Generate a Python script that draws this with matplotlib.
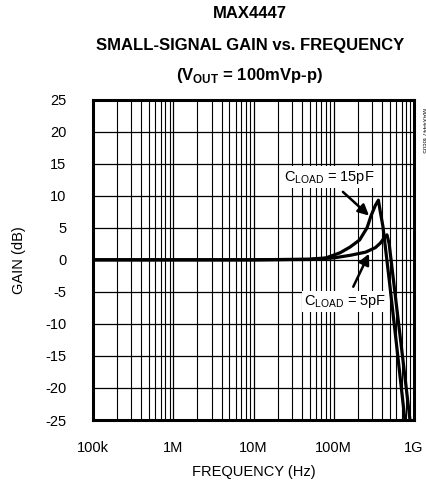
import matplotlib
matplotlib.use("Agg")
import matplotlib.pyplot as plt

# -----------------------------------------
# Data
# -----------------------------------------
freq_15pf = [1e5, 1e6, 1e7, 5e7, 8e7, 1.2e8, 1.6e8, 2.1e8, 2.6e8, 2.9e8,
             3.3e8, 3.6e8, 3.8e8, 4.1e8, 5.0e8, 6.0e8, 7.7e8]
gain_15pf = [0.0, 0.0, 0.0, 0.1, 0.3, 1.1, 2.0, 3.1, 5.0, 6.8,
             8.5, 9.3, 7.5, 5.2, -4.0, -12.8, -25.0]

freq_5pf = [1e5, 1e6, 1e7, 5e7, 1e8, 1.6e8, 2.5e8, 3.3e8, 3.8e8, 4.3e8,
            4.6e8, 4.9e8, 6.0e8, 7.5e8, 8.9e8]
gain_5pf = [0.0, 0.0, 0.0, 0.05, 0.3, 0.7, 1.2, 1.9, 2.6, 3.5,
            3.9, 2.5, -6.8, -17.0, -25.0]

x_ticks = [1e5, 1e6, 1e7, 1e8, 1e9]
x_labels = ["100k", "1M", "10M", "100M", "1G"]
y_ticks = list(range(-25, 30, 5))

FONT = ["Liberation Sans Narrow", "Liberation Sans", "DejaVu Sans"]
plt.rcParams["font.family"] = FONT
plt.rcParams["axes.unicode_minus"] = False

fig = plt.figure(figsize=(4.27, 4.84), dpi=100)
ax = fig.add_axes([0.2178, 0.1322, 0.7518, 0.662])

ax.plot(freq_15pf, gain_15pf, color="black", lw=2.3, solid_joinstyle="round")
ax.plot(freq_5pf, gain_5pf, color="black", lw=2.3, solid_joinstyle="round")

ax.set_xscale("log")
ax.set_xlim(1e5, 1e9)
ax.set_ylim(-25, 25)
ax.set_xticks(x_ticks)
ax.set_xticklabels(x_labels)
ax.set_yticks(y_ticks)
ax.tick_params(axis="both", which="both", length=0, labelsize=10.5)
ax.tick_params(axis="x", pad=15)
ax.tick_params(axis="y", pad=19)
ax.grid(True, which="major", color="black", lw=0.9)
ax.grid(True, which="minor", axis="x", color="black", lw=0.8)
ax.set_axisbelow(True)
for s in ax.spines.values():
    s.set_linewidth(2.2)

ax.set_xlabel("FREQUENCY (Hz)", fontsize=10.5, labelpad=7)
ax.set_ylabel("GAIN (dB)", fontsize=10.5, labelpad=14)

# -----------------------------------------
# Annotations
# -----------------------------------------
box = dict(boxstyle="square,pad=0.15", fc="white", ec="none")
arrow = dict(arrowstyle="-|>", color="black", lw=1.8, mutation_scale=16,
             shrinkA=0, shrinkB=0)

ax.text(2.4e7, 12.9, r"C$_{\mathregular{LOAD}}$ = 15pF", fontsize=10.5,
        ha="left", va="center", bbox=box)
ax.annotate("", xy=(2.75e8, 6.9), xytext=(1.3e8, 10.6), arrowprops=arrow)

ax.text(4.3e7, -6.5, r"C$_{\mathregular{LOAD}}$ = 5pF", fontsize=10.5,
        ha="left", va="center", bbox=box)
ax.annotate("", xy=(2.75e8, 0.95), xytext=(1.75e8, -4.2), arrowprops=arrow)

fig.text(0.585, 0.972, "MAX4447", fontsize=12, fontweight="bold", ha="center", va="center")
fig.text(0.585, 0.905, "SMALL-SIGNAL GAIN vs. FREQUENCY", fontsize=12,
         fontweight="bold", ha="center", va="center")
fig.text(0.585, 0.843, r"(V$_{\mathregular{OUT}}$ = 100mVp-p)", fontsize=12,
         fontweight="bold", ha="center", va="center")
fig.text(0.992, 0.73, "MAX4447 toc05", fontsize=4.5, rotation=-90,
         ha="center", va="center")

fig.savefig("out.png", dpi=100)
